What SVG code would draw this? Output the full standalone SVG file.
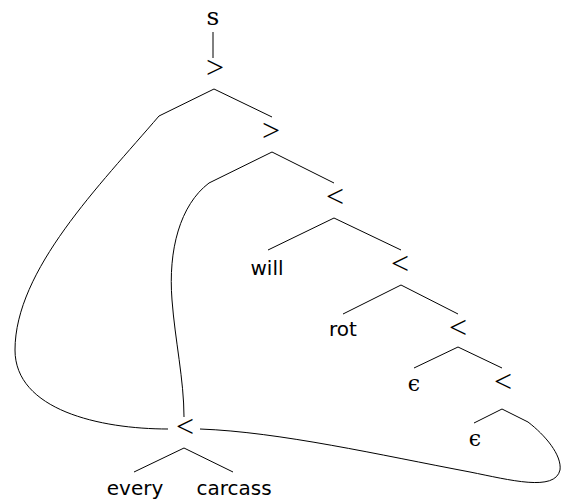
<svg xmlns="http://www.w3.org/2000/svg" width="562" height="501" viewBox="0 0 562 501">
<style>
.e{fill:none;stroke:#000;stroke-width:1}
.w{font-family:"DejaVu Sans",sans-serif;font-size:20px;text-anchor:middle;fill:#000}
.op{font-family:"Liberation Serif",serif;font-size:32px;text-anchor:middle;fill:#000}
.s{font-family:"DejaVu Serif",serif;font-size:25px;text-anchor:middle;fill:#000}
.ep{font-family:"DejaVu Serif",serif;font-size:22px;text-anchor:middle;fill:#000}
</style>
<rect width="562" height="501" fill="#fff"/>
<g id="connectors">
<line class="e" x1="213" y1="32" x2="213" y2="58"/>
<polyline class="e" points="159,116 214,89 272,117"/>
<polyline class="e" points="209,183 272,152 334,183"/>
<polyline class="e" points="268,250 334,218 401,250"/>
<polyline class="e" points="343,314 401,285 458,314"/>
<polyline class="e" points="414,368 458,347 502,368"/>
<polyline class="e" points="474,423 502,409 528,422"/>
<polyline class="e" points="134,472 184,448 233,472"/>
<path class="e" d="M159,116 C100,185 15,270 15,350 C15,410 100,429 168,429"/>
<path class="e" d="M209,183 C180,205 168,250 172,300 C175,340 184,380 184,417"/>
<path class="e" d="M200,429 C280,432 380,455 470,472 C510,480 555,492 560,470 C562,455 545,435 528,422"/>
</g>
<g id="n_s"><text class="s" x="213" y="25">s</text></g>
<g id="n_gt1"><text class="op" x="215" y="78">&gt;</text></g>
<g id="n_gt2"><text class="op" x="271" y="141">&gt;</text></g>
<g id="n_lt3"><text class="op" x="335" y="207">&lt;</text></g>
<g id="n_will"><text class="w" x="267" y="275">will</text></g>
<g id="n_lt4"><text class="op" x="400" y="274">&lt;</text></g>
<g id="n_rot"><text class="w" x="343" y="336">rot</text></g>
<g id="n_lt5"><text class="op" x="458" y="338">&lt;</text></g>
<g id="n_eps1"><text class="ep" x="414" y="391">ϵ</text></g>
<g id="n_lt6"><text class="op" x="503" y="392">&lt;</text></g>
<g id="n_eps2"><text class="ep" x="475" y="446">ϵ</text></g>
<g id="n_lt7"><text class="op" x="185" y="437">&lt;</text></g>
<g id="n_every"><text class="w" x="135" y="495">every</text></g>
<g id="n_carcass"><text class="w" x="234" y="495">carcass</text></g>
</svg>
